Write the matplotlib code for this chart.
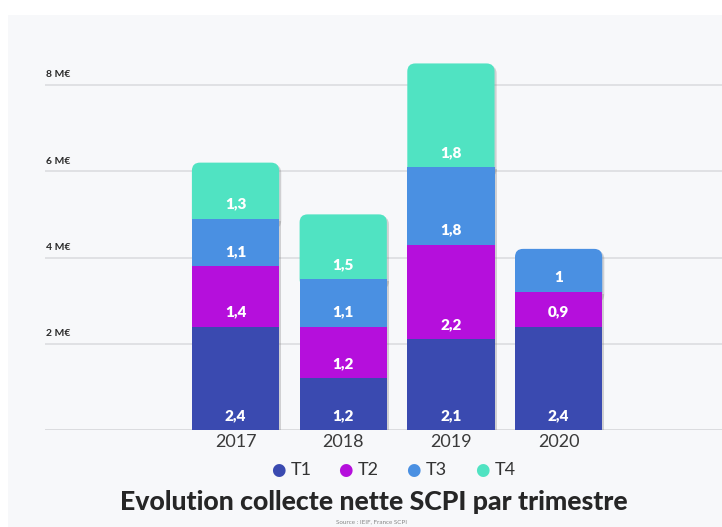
import matplotlib
matplotlib.use("Agg")
import matplotlib.pyplot as plt
from matplotlib.patches import FancyBboxPatch, Rectangle
import matplotlib.patheffects as pe
import numpy as np

years = ["2017", "2018", "2019", "2020"]
series = ["T1", "T2", "T3", "T4"]
t1 = [2.4, 1.2, 2.1, 2.4]
t2 = [1.4, 1.2, 2.2, 0.8]
t3 = [1.1, 1.1, 1.8, 1.0]
t4 = [1.3, 1.5, 2.4, 0.0]          # drawn heights as seen in the picture
t1_lab = ["2,4", "1,2", "2,1", "2,4"]
t2_lab = ["1,4", "1,2", "2,2", "0,9"]
t3_lab = ["1,1", "1,1", "1,8", "1"]
t4_lab = ["1,3", "1,5", "1,8", ""]
yticks = [2, 4, 6, 8]
ytick_labels = ["2 M€", "4 M€", "6 M€", "8 M€"]
title = "Evolution collecte nette SCPI par trimestre"
source = "Source : IEIF, France SCPI"

colors = ["#3a4ab0", "#b50fdc", "#4a90e2", "#50e3c2"]
panel = "#f7f8fa"

W, H = 722, 527
fig = plt.figure(figsize=(W / 100, H / 100), dpi=100)
fig.patch.set_facecolor("white")
fig.patches.append(Rectangle((8 / W, 0), 1, 1 - 15 / H, transform=fig.transFigure,
                             facecolor=panel, edgecolor="none", zorder=-10))

ax_left, ax_bottom = 45 / W, (H - 430) / H
ax_top = (H - 59) / H
ax = fig.add_axes([ax_left, ax_bottom, 1 - ax_left, ax_top - ax_bottom])
ax.set_facecolor("none")
ax.set_xlim(-1.769, 4.517)
ax.set_ylim(0, (430 - 59) / 43.125)
for s in ax.spines.values():
    s.set_visible(False)
ax.set_yticks([])
ax.tick_params(axis="x", length=0, pad=3)
x = np.arange(len(years)) * 1.0
ax.set_xticks(x)
ax.set_xticklabels(years, fontsize=13, color="#3a3a3a", family="Lato")

# gridlines and y labels
ax.axhline(0, color="#d6d7da", lw=1.2, zorder=1)
for v, lab in zip(yticks, ytick_labels):
    ax.axhline(v, color="#dcdde0", lw=1.2, zorder=1)
    ax.annotate(lab, (0, v), xycoords=("axes fraction", "data"), xytext=(0.5, 4),
                textcoords="offset points", fontsize=7.5, fontweight="bold",
                color="#2a2a2a", family="Lato", ha="left", va="bottom")

width = 0.81
rx = 0.075
aspect = 2.5
stack = [t1, t2, t3, t4]
labs = [t1_lab, t2_lab, t3_lab, t4_lab]
for i in range(len(years)):
    vals = [s[i] for s in stack]
    total = sum(vals)
    top_idx = max(k for k, v in enumerate(vals) if v > 0)
    bottom_top = sum(vals[:top_idx])
    shape = FancyBboxPatch((x[i] - width / 2 + rx, bottom_top),
                           width - 2 * rx, total - bottom_top - rx * aspect,
                           boxstyle=f"round,pad={rx},rounding_size={rx}",
                           mutation_aspect=aspect,
                           facecolor=colors[top_idx], edgecolor="none", zorder=3,
                           path_effects=[pe.SimplePatchShadow(offset=(1.5, -1.5),
                                                              shadow_rgbFace="#888888", alpha=0.35),
                                         pe.Normal()])
    ax.add_patch(shape)
    ax.add_patch(Rectangle((x[i] - width / 2, 0), width, bottom_top,
                           facecolor="#888888", edgecolor="none", zorder=2, alpha=0.0,
                           path_effects=[pe.SimplePatchShadow(offset=(1.5, -1.5),
                                                              shadow_rgbFace="#888888", alpha=0.35)]))
    bottom = 0
    for k in range(top_idx):
        ax.add_patch(Rectangle((x[i] - width / 2, bottom), width, vals[k],
                               facecolor=colors[k], edgecolor="none", zorder=4))
        bottom += vals[k]
    bottom = 0
    for k in range(len(vals)):
        if vals[k] > 0 and labs[k][i]:
            ax.annotate(labs[k][i], (x[i], bottom), xytext=(0, 10.5), textcoords="offset points",
                        ha="center", va="center", color="white", fontsize=11,
                        fontweight="heavy", family="Lato", zorder=6)
        bottom += vals[k]

# legend
leg_x = [278, 345, 413, 482]
for xp, name, c in zip(leg_x, series, colors):
    fig.text(xp / W, 1 - 470 / H, "●", color=c, fontsize=12, ha="center", va="center",
             family="DejaVu Sans")
    fig.text((xp + 13) / W, 1 - 470 / H, name, color="#333333", fontsize=13,
             ha="left", va="center", family="Lato")

fig.text(374 / W, 1 - 502 / H, title, fontsize=19.2, fontweight="black", family="Lato",
         ha="center", va="center", color="#262626")
fig.text(372 / W, 1 - 522 / H, source, fontsize=4.5, family="Lato",
         ha="center", va="center", color="#888888")

fig.savefig("out.png", dpi=100, facecolor="white")
